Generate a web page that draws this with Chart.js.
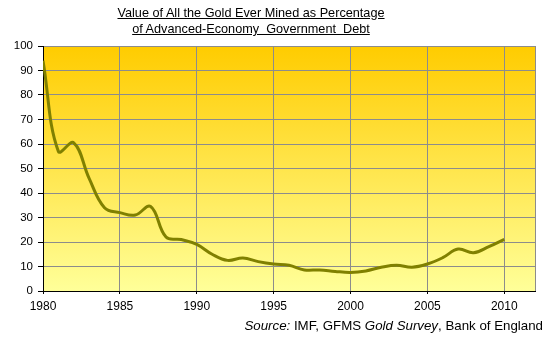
<!DOCTYPE html>
<html>
<head>
<meta charset="utf-8">
<script src="https://cdn.jsdelivr.net/npm/chart.js@4/dist/chart.umd.min.js"></script>
<style>
  html, body { margin: 0; padding: 0; background: #fff; }
  #wrap { position: relative; width: 549px; height: 345px; font-family: "Liberation Sans", Arial, sans-serif; }
  #title { position: absolute; left: 0; width: 502px; top: 5px; text-align: center; font-size: 12.7px; line-height: 16px; text-decoration: underline; color: #000; }
  #source { position: absolute; right: 6px; top: 318px; font-size: 13.3px; color: #000; }
  canvas { position: absolute; left: 0; top: 0; }
</style>
</head>
<body>
<div id="wrap">
  <canvas id="chart" width="549" height="345"></canvas>
  <div id="title">Value of All the Gold Ever Mined as Percentage<br>of Advanced-Economy &nbsp;Government &nbsp;Debt</div>
  <div id="source"><i>Source:</i> IMF, GFMS <i>Gold Survey</i>, Bank of England</div>
</div>
<script>
// data
const years = [1980, 1981, 1982, 1983, 1984, 1985, 1986, 1987, 1988, 1989,
  1990, 1991, 1992, 1993, 1994, 1995, 1996, 1997, 1998, 1999,
  2000, 2001, 2002, 2003, 2004, 2005, 2006, 2007, 2008, 2009, 2010];
const goldPct = [94, 57, 60.5, 46, 34, 32, 31, 34.5, 22, 21,
  19, 15, 12.5, 13.5, 12, 11, 10.5, 8.6, 8.6, 8,
  7.6, 8.2, 9.7, 10.5, 9.7, 11, 13.6, 17.1, 15.6, 18.1, 21.1];
const yTicks = [0, 10, 20, 30, 40, 50, 60, 70, 80, 90, 100];
const xTicks = [1980, 1985, 1990, 1995, 2000, 2005, 2010];

// gradient plot background + right border
const plotBg = {
  id: 'plotBg',
  beforeDraw(chart) {
    const a = chart.chartArea, ctx = chart.ctx;
    let g = ctx.createLinearGradient(0, a.top, 0, a.bottom);
    g.addColorStop(0, '#FFCC00');
    g.addColorStop(1, '#FFFF99');
    ctx.save();
    ctx.fillStyle = g;
    ctx.fillRect(a.left, a.top, a.right - a.left, a.bottom - a.top);
    ctx.restore();
  },
  beforeDatasetsDraw(chart) {
    const a = chart.chartArea, ctx = chart.ctx;
    ctx.save();
    ctx.strokeStyle = '#8C8C8C';
    ctx.lineWidth = 1;
    ctx.beginPath();
    ctx.moveTo(Math.round(a.right) + 0.5, a.top);
    ctx.lineTo(Math.round(a.right) + 0.5, a.bottom);
    ctx.stroke();
    ctx.restore();
  }
};

new Chart(document.getElementById('chart'), {
  type: 'line',
  data: {
    datasets: [{
      data: years.map((y, i) => ({ x: y, y: goldPct[i] })),
      borderColor: '#808000',
      borderWidth: 3,
      pointRadius: 0,
      tension: 0.4,
      fill: false
    }]
  },
  options: {
    responsive: false,
    animation: false,
    layout: { padding: { left: 0, right: 14, top: 46, bottom: 0 } },
    plugins: { legend: { display: false }, tooltip: { enabled: false } },
    scales: {
      x: {
        type: 'linear',
        min: 1980,
        max: 2012,
        afterBuildTicks(s) { s.ticks = xTicks.map(v => ({ value: v })); },
        afterFit(s) { s.height = 54; },
        grid: { color: '#8C8C8C', tickLength: 3, tickColor: '#000' },
        border: { color: '#000', width: 1 },
        ticks: {
          padding: 5, color: '#000', maxRotation: 0,
          font: { family: 'Liberation Sans', size: 12 },
          callback: v => String(v)
        }
      },
      y: {
        min: 0,
        max: 100,
        afterBuildTicks(s) { s.ticks = yTicks.map(v => ({ value: v })); },
        afterFit(s) { s.width = 43; },
        grid: { color: '#8C8C8C', tickLength: 5, tickColor: '#000' },
        border: { color: '#000', width: 1 },
        ticks: { padding: 5, color: '#000', font: { family: 'Liberation Sans', size: 11.5 } }
      }
    }
  },
  plugins: [plotBg]
});
</script>
</body>
</html>
